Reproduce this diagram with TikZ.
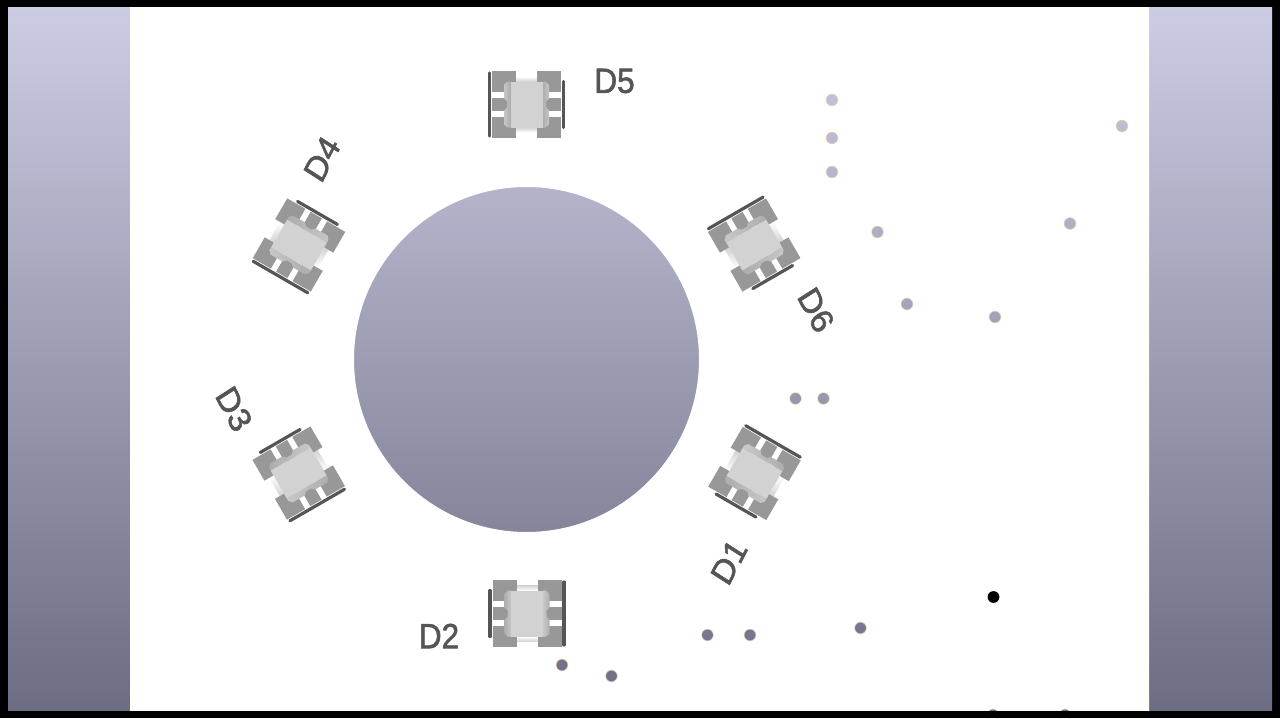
\documentclass[tikz,border=0pt]{standalone}
\usepackage{fontspec}
\setmainfont{Liberation Sans}
\newfontfamily\kfont[FakeBold=1.7]{Liberation Sans}
\usetikzlibrary{calc}
\definecolor{silk}{RGB}{85,85,85}
\definecolor{padc}{RGB}{152,152,152}
\definecolor{topc}{RGB}{210,210,210}
\definecolor{bandd}{RGB}{172,172,172}
\definecolor{bandl}{RGB}{200,200,200}
\definecolor{rimc}{RGB}{225,175,130}
\tikzset{
  padbox/.style={fill=padc,draw=none},
  silkline/.style={draw=silk,line width=3.2pt,line cap=round},
  refdes/.style={text=silk,font=\kfont\fontsize{35}{35}\selectfont,inner sep=0pt,xscale=.9},
  hole/.style={fill=white,even odd rule},
  rim/.style={draw=rimc,line width=.7pt,opacity=.55,fill=none}
}
\newcommand{\ledpkg}[3]{%
  \begin{scope}[shift={(#1,#2)},rotate=-#3]
    \shade[top color=white,bottom color=gray!35] (-10.5,-28) rectangle (10.5,-23);
    \shade[bottom color=white,top color=gray!35] (-10.5,23) rectangle (10.5,28);
    \foreach \sx in {-1,1}{
      \fill[padbox] (\sx*10.5,-33.5) rectangle (\sx*34.5,-12.5);
      \fill[padbox] (\sx*10.5,-6.5) rectangle (\sx*34.5,6.5);
      \fill[padbox] (\sx*10.5,12.5) rectangle (\sx*34.5,33.5);
    }
    \begin{scope}
      \clip (-22.5,-20) -- (-19,-23) -- (19,-23) -- (22.5,-20) -- (22.5,-6) -- (19.5,-3) -- (19.5,3) -- (22.5,6) -- (22.5,20) -- (19,23) -- (-19,23) -- (-22.5,20) -- (-22.5,6) -- (-19.5,3) -- (-19.5,-3) -- (-22.5,-6) -- cycle;
      \shade[left color=bandl,right color=bandd] (-23,-23) rectangle (-16,23);
      \shade[left color=bandd,right color=bandl] (16,-23) rectangle (23,23);
    \end{scope}
    \fill[topc] (-16,-23) rectangle (16,23);
    \draw[silkline] (-37,-31.5) -- (-37,31.5);
    \draw[silkline] (37,-23) -- (37,23);
  \end{scope}}
\begin{document}
\begin{tikzpicture}[x=1pt,y=-1pt]
\useasboundingbox (0,0) rectangle (1280,718);
\fill[black] (0,0) rectangle (1280,718);
\shade[top color={rgb,255:red,204;green,204;blue,228},bottom color={rgb,255:red,108;green,108;blue,130}] (8,7) rectangle (1272,711);
\def\dotlist{832/100,832/138,832/172,1122/126,877.5/232,1070/223.5,907/304,995/317,795.5/398.5,823.5/398.5,860.5/628,707.5/635,750/635,562/665,611.5/676,993/715,1065/715}
\fill[hole] (130,7) rectangle (1149,711)
  (526.5,359.5) circle[radius=172.5]
  \foreach \dx/\dy in \dotlist { (\dx,\dy) circle[radius=5.7] };
\foreach \dx/\dy in \dotlist { \draw[rim] (\dx,\dy) circle[radius=5.9]; }
\fill[black] (993.5,597) circle[radius=5.9];
\fill[black] (0,711) rectangle (1280,718);
\ledpkg{526.5}{104.5}{0}
\ledpkg{527}{613.5}{180}
\ledpkg{754.2}{245}{60}
\ledpkg{754.5}{473.5}{120}
\ledpkg{298.7}{473}{240}
\ledpkg{299}{245}{300}
\node[refdes] (d5) at (614.5,81) {D5};
\node[refdes] (d2) at (439,636) {D2};
\node[refdes,rotate=60] (d4) at (322,159) {D4};
\node[refdes,rotate=60] (d1) at (729,562) {D1};
\node[refdes,rotate=-60] (d6) at (816,310) {D6};
\node[refdes,rotate=-60] (d3) at (234,409) {D3};
\end{tikzpicture}
\end{document}
